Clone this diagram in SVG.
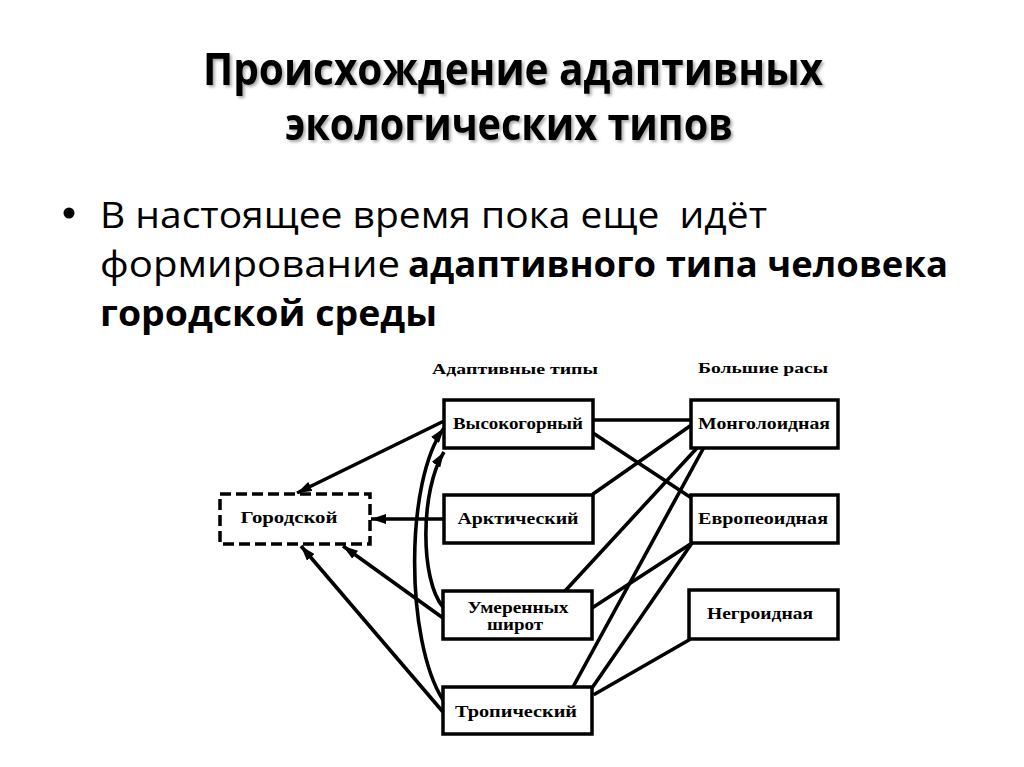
<svg xmlns="http://www.w3.org/2000/svg" width="1024" height="767" viewBox="0 0 1024 767">
  <defs>
    <filter id="shadow" x="-5%" y="-20%" width="110%" height="150%">
      <feDropShadow dx="2" dy="2" stdDeviation="1.5" flood-color="#000" flood-opacity="0.35"/>
    </filter>
    <marker id="arrow" markerUnits="userSpaceOnUse" viewBox="0 0 15 10" refX="15" refY="5" markerWidth="15" markerHeight="10" orient="auto">
      <path d="M0,0 L15,5 L0,10 z" fill="#000"/>
    </marker>
  </defs>
  <style>
    .title { font-family: "Open Sans", "Noto Sans", "Liberation Sans", sans-serif; font-weight: bold; font-size: 44px; fill: #000; }
    .body { font-family: "Open Sans", "Noto Sans", "Liberation Sans", sans-serif; font-size: 36px; fill: #000; white-space: pre; }
    .b { font-weight: bold; }
    .box { fill: #fff; stroke: #000; stroke-width: 3.5; }
    .dash { stroke-dasharray: 11 5; }
    .lbl { font-family: "Liberation Serif", "DejaVu Serif", serif; font-weight: bold; font-size: 16px; fill: #000; text-anchor: middle; }
    .hdr { font-family: "Liberation Serif", "DejaVu Serif", serif; font-weight: bold; font-size: 14px; fill: #000; text-anchor: middle; }
    .line { fill: none; stroke: #000; stroke-width: 3.6; stroke-linecap: round; }
    .arr { fill: none; stroke: #000; stroke-width: 3.6; marker-end: url(#arrow); }
  </style>
  <rect width="1024" height="767" fill="#fff"/>

  <g id="title" filter="url(#shadow)">
    <text class="title" x="203" y="85" textLength="620" lengthAdjust="spacingAndGlyphs">Происхождение адаптивных</text>
    <text class="title" x="285" y="140" textLength="448" lengthAdjust="spacingAndGlyphs">экологических типов</text>
  </g>

  <g id="bullet">
    <circle cx="69" cy="213" r="5.5" fill="#000"/>
    <text class="body" x="100" y="228" textLength="667" lengthAdjust="spacingAndGlyphs">В настоящее время пока еще  идёт</text>
    <text class="body" y="277"><tspan x="100" textLength="300" lengthAdjust="spacingAndGlyphs">формирование</tspan><tspan class="b" x="408" textLength="540" lengthAdjust="spacingAndGlyphs">адаптивного типа человека</tspan></text>
    <text class="body b" x="100" y="326" textLength="337" lengthAdjust="spacingAndGlyphs">городской среды</text>
  </g>

  <g id="headers">
    <text class="hdr" x="515" y="374" textLength="166" lengthAdjust="spacingAndGlyphs">Адаптивные типы</text>
    <text class="hdr" x="763" y="373" textLength="130" lengthAdjust="spacingAndGlyphs">Большие расы</text>
  </g>

  <g id="connectors">
    <line class="line" x1="593" y1="420" x2="691" y2="420"/>
    <line class="line" x1="593" y1="433" x2="690" y2="497"/>
    <line class="line" x1="593" y1="494" x2="690" y2="426"/>
    <line class="line" x1="565" y1="591" x2="697" y2="448"/>
    <line class="line" x1="573" y1="687" x2="703" y2="449"/>
    <line class="line" x1="592" y1="608" x2="692" y2="543"/>
    <line class="line" x1="592" y1="688" x2="692" y2="543"/>
    <line class="line" x1="595" y1="694" x2="689" y2="640"/>
    <line class="arr" x1="444" y1="421" x2="297" y2="493"/>
    <line class="arr" x1="444" y1="519" x2="371" y2="519"/>
    <line class="arr" x1="443" y1="618" x2="343" y2="546"/>
    <line class="arr" x1="443" y1="712" x2="301" y2="546"/>
    <path class="arr" d="M443,700 C405,640 405,480 444,428"/>
    <path class="arr" d="M443,607 C420,580 420,490 444,452"/>
  </g>

  <g id="node-vysokogorny">
    <rect class="box" x="444" y="400" width="149" height="48"/>
    <text class="lbl" x="518" y="429" textLength="130" lengthAdjust="spacingAndGlyphs">Высокогорный</text>
  </g>
  <g id="node-gorodskoy">
    <rect class="box dash" x="220" y="494" width="150" height="50"/>
    <text class="lbl" x="289" y="523" textLength="97" lengthAdjust="spacingAndGlyphs">Городской</text>
  </g>
  <g id="node-arkticheskiy">
    <rect class="box" x="444" y="495" width="149" height="48"/>
    <text class="lbl" x="518" y="524" textLength="121" lengthAdjust="spacingAndGlyphs">Арктический</text>
  </g>
  <g id="node-umerennyh">
    <rect class="box" x="443" y="591" width="149" height="48"/>
    <text class="lbl" x="518" y="613" textLength="101" lengthAdjust="spacingAndGlyphs">Умеренных</text>
    <text class="lbl" x="515" y="630" textLength="56" lengthAdjust="spacingAndGlyphs">широт</text>
  </g>
  <g id="node-tropicheskiy">
    <rect class="box" x="443" y="687" width="149" height="47"/>
    <text class="lbl" x="516" y="717" textLength="122" lengthAdjust="spacingAndGlyphs">Тропический</text>
  </g>
  <g id="node-mongoloidnaya">
    <rect class="box" x="691" y="400" width="147" height="48"/>
    <text class="lbl" x="764" y="429" textLength="132" lengthAdjust="spacingAndGlyphs">Монголоидная</text>
  </g>
  <g id="node-evropeoidnaya">
    <rect class="box" x="691" y="495" width="147" height="48"/>
    <text class="lbl" x="763" y="524" textLength="130" lengthAdjust="spacingAndGlyphs">Европеоидная</text>
  </g>
  <g id="node-negroidnaya">
    <rect class="box" x="689" y="590" width="149" height="49"/>
    <text class="lbl" x="760" y="619" textLength="106" lengthAdjust="spacingAndGlyphs">Негроидная</text>
  </g>
</svg>
